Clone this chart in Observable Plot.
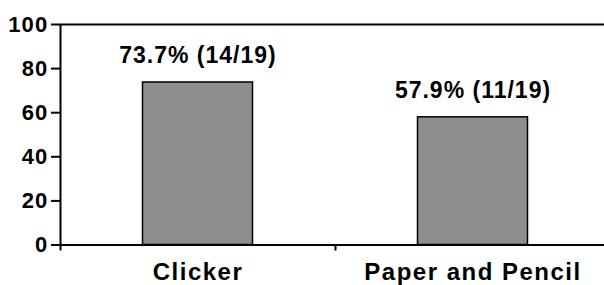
<!DOCTYPE html>
<html>
<head>
<meta charset="utf-8">
<script src="https://cdn.jsdelivr.net/npm/d3@7"></script>
<script src="https://cdn.jsdelivr.net/npm/@observablehq/plot@0.6"></script>
<style>
  html, body { margin: 0; padding: 0; background: #fff; overflow: hidden; }
  #chart svg { display: block; }
  .wide text { letter-spacing: 1.5px; }
  .val text { letter-spacing: 1px; }
  .ylab text { letter-spacing: 1.2px; }
</style>
</head>
<body>
<div id="chart"></div>
<script>
const categories = ["Clicker", "Paper and Pencil"];
const values = [73.7, 57.9];
const valueLabels = ["73.7% (14/19)", "57.9% (11/19)"];
const yTicks = [0, 20, 40, 60, 80, 100];

const data = categories.map((c, i) => ({
  category: c,
  index: i,
  value: values[i],
  label: valueLabels[i]
}));

const font = "Arial, 'Liberation Sans', sans-serif";

const chart = Plot.plot({
  width: 604,
  height: 285,
  marginLeft: 60,
  marginRight: 0,
  marginTop: 24,
  marginBottom: 40.5,
  style: { fontFamily: font, background: "#fff", overflow: "visible" },
  x: { type: "linear", domain: [0, categories.length], range: [60, 610], axis: null },
  y: { type: "linear", domain: [0, 100], axis: null },
  marks: [
    Plot.rectY(data, {
      x1: d => d.index + 0.3,
      x2: d => d.index + 0.7,
      y1: 0,
      y2: "value",
      fill: "#8e8e8e",
      stroke: "#000",
      strokeWidth: 1.5
    }),
    Plot.ruleY([0, 100], { stroke: "#000", strokeWidth: 2 }),
    Plot.ruleX([0], { y1: 0, y2: 100, stroke: "#000", strokeWidth: 2 }),
    // x-axis tick marks at category boundaries
    Plot.ruleX(d3.range(categories.length + 1), {
      x: d => d, y1: 0, y2: 0, insetBottom: -6, stroke: "#000", strokeWidth: 2
    }),
    // y-axis tick marks
    Plot.ruleY(yTicks, {
      y: d => d, x1: 0, x2: 0, insetLeft: -9, stroke: "#000", strokeWidth: 2
    }),
    // y-axis tick labels
    Plot.text(yTicks, {
      y: d => d,
      x: 0,
      text: d => String(d),
      textAnchor: "end",
      lineAnchor: "middle",
      dx: -12,
      fontSize: 22,
      fontWeight: "bold",
      fill: "#000",
      className: "ylab"
    }),
    Plot.text(data, {
      x: d => d.index + 0.5,
      y: "value",
      text: "label",
      lineAnchor: "bottom",
      dy: -19,
      fontSize: 23,
      fontWeight: "bold",
      fill: "#000",
      className: "val"
    }),
    Plot.text(data, {
      x: d => d.index + 0.5,
      y: 0,
      text: "category",
      lineAnchor: "middle",
      dy: 27,
      fontSize: 24,
      fontWeight: "bold",
      fill: "#000",
      className: "wide"
    })
  ]
});
document.getElementById("chart").appendChild(chart);
</script>
</body>
</html>
